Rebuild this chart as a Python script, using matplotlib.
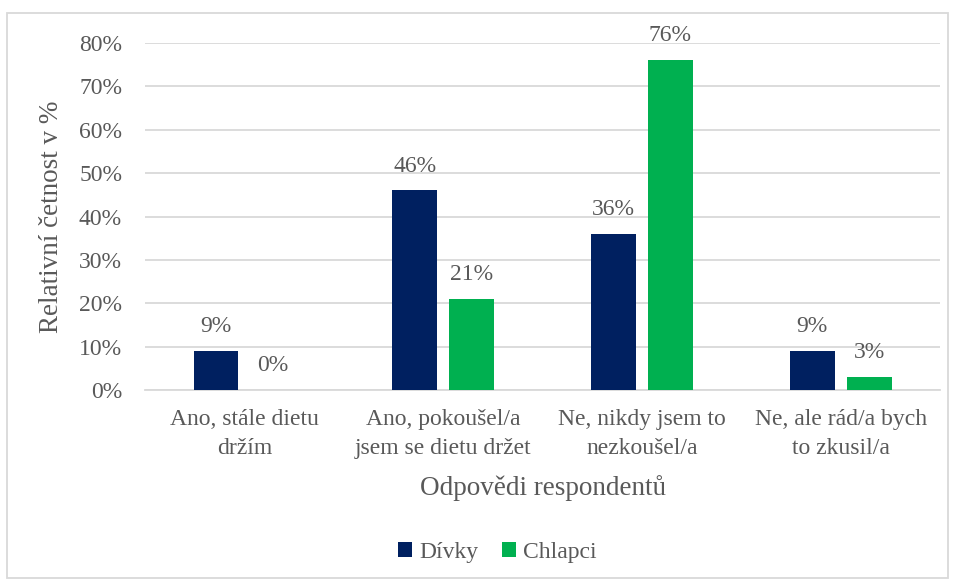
import matplotlib

matplotlib.use("Agg")
import matplotlib.pyplot as plt  # noqa: E402
import numpy as np  # noqa: E402
from matplotlib.patches import Rectangle  # noqa: E402
from matplotlib.ticker import FuncFormatter, MultipleLocator  # noqa: E402

categories = [
    "Ano, stále dietu\ndržím",
    "Ano, pokoušel/a\njsem se dietu držet",
    "Ne, nikdy jsem to\nnezkoušel/a",
    "Ne, ale rád/a bych\nto zkusil/a",
]
divky = [9, 46, 36, 9]
chlapci = [0, 21, 76, 3]

NAVY = "#002060"
GREEN = "#00B050"
TEXT = "#595959"
GRID = "#D9D9D9"

SERIF = ["Liberation Serif", "DejaVu Serif"]
plt.rcParams["font.family"] = SERIF
FS = 17
FS_TITLE = 19.5

fig = plt.figure(figsize=(9.56, 5.81), dpi=100)
ax = fig.add_axes([0.1517, 0.3287, 0.8316, 0.5973])

x = np.arange(len(categories))
w = 0.226
off = 0.143
b1 = ax.bar(x - off, divky, w, color=NAVY, label="Dívky", zorder=3)
b2 = ax.bar(x + off, chlapci, w, color=GREEN, label="Chlapci", zorder=3)
for bars in (b1, b2):
    ax.bar_label(bars, labels=[f"{v:g}%" for v in bars.datavalues],
                 padding=10, fontsize=FS, color=TEXT)

ax.set_xlim(-0.5, len(categories) - 0.5)
ax.set_ylim(0, 80)
ax.yaxis.set_major_locator(MultipleLocator(10))
ax.yaxis.set_major_formatter(FuncFormatter(lambda v, _: f"{v:.0f}%"))
ax.grid(axis="y", color=GRID, lw=1.3, zorder=0)
ax.set_xticks(x, categories)
ax.tick_params(axis="both", length=0, labelsize=FS, labelcolor=TEXT)
ax.tick_params(axis="x", pad=14)
ax.tick_params(axis="y", pad=16.5)
for lbl in ax.get_xticklabels():
    lbl.set_linespacing(1.45)
for side in ("top", "right", "left"):
    ax.spines[side].set_visible(False)
ax.spines["bottom"].set_color(GRID)
ax.spines["bottom"].set_linewidth(1.3)

ax.set_ylabel("Relativní četnost v %", fontsize=FS_TITLE, color=TEXT, labelpad=11)
ax.set_xlabel("Odpovědi respondentů", fontsize=FS_TITLE, color=TEXT, labelpad=12)

fig.legend(loc="center", bbox_to_anchor=(0.52, 0.049), ncol=2, frameon=False,
           prop={"family": SERIF, "size": FS}, labelcolor=TEXT,
           handlelength=0.6, handleheight=0.6,
           handletextpad=0.3, columnspacing=1.0)

fig.add_artist(Rectangle((7 / 956, 3 / 581), 941 / 956, 565 / 581,
                         transform=fig.transFigure, fill=False,
                         edgecolor=GRID, lw=1.3))

fig.savefig("out.png", dpi=100)
plt.close(fig)
